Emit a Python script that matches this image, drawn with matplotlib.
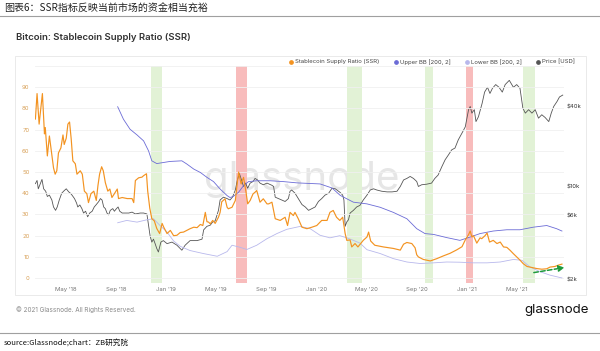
import pandas as pd
import matplotlib
matplotlib.use('Agg')
import matplotlib.pyplot as plt
from matplotlib.lines import Line2D
from matplotlib.patches import Rectangle
from matplotlib.ticker import NullLocator

plt.rcParams['font.family'] = ['Inter', 'Noto Sans CJK SC', 'DejaVu Sans']
CJK = ['Noto Sans CJK SC', 'DejaVu Sans']

# Stablecoin Supply Ratio (left axis)
ssr_dates = [
    '2018-02-17', '2018-02-21', '2018-02-26', '2018-03-06', '2018-03-11', '2018-03-13', '2018-03-18',
    '2018-03-23', '2018-03-27', '2018-04-02', '2018-04-06', '2018-04-10', '2018-04-14', '2018-04-20',
    '2018-04-25', '2018-04-28', '2018-05-03', '2018-05-07', '2018-05-11', '2018-05-15', '2018-05-19',
    '2018-05-25', '2018-05-29', '2018-06-06', '2018-06-11', '2018-06-16', '2018-06-22', '2018-06-26',
    '2018-07-02', '2018-07-09', '2018-07-15', '2018-07-19', '2018-07-23', '2018-07-28', '2018-08-01',
    '2018-08-06', '2018-08-12', '2018-08-17', '2018-08-22', '2018-08-28', '2018-09-04', '2018-09-07',
    '2018-09-16', '2018-09-28', '2018-10-10', '2018-10-14', '2018-10-18', '2018-10-26', '2018-11-03',
    '2018-11-07', '2018-11-14', '2018-11-17', '2018-11-22', '2018-11-27', '2018-12-03', '2018-12-09',
    '2018-12-16', '2018-12-22', '2018-12-26', '2019-01-03', '2019-01-11', '2019-01-19', '2019-01-27',
    '2019-02-04', '2019-02-12', '2019-02-20', '2019-02-28', '2019-03-09', '2019-03-17', '2019-03-25',
    '2019-03-31', '2019-04-06', '2019-04-10', '2019-04-14', '2019-04-18', '2019-04-24', '2019-04-30',
    '2019-05-08', '2019-05-12', '2019-05-16', '2019-05-24', '2019-05-29', '2019-06-01', '2019-06-10',
    '2019-06-18', '2019-06-22', '2019-06-26', '2019-07-02', '2019-07-08', '2019-07-14', '2019-07-18',
    '2019-07-24', '2019-07-31', '2019-08-05', '2019-08-09', '2019-08-17', '2019-08-25', '2019-09-03',
    '2019-09-07', '2019-09-15', '2019-09-23', '2019-10-05', '2019-10-17', '2019-10-23', '2019-10-29',
    '2019-11-06', '2019-11-10', '2019-11-18', '2019-11-27', '2019-12-09', '2019-12-21', '2020-01-02',
    '2020-01-14', '2020-01-27', '2020-02-03', '2020-02-11', '2020-02-19', '2020-02-27', '2020-03-05',
    '2020-03-11', '2020-03-15', '2020-03-23', '2020-03-27', '2020-04-04', '2020-04-11', '2020-04-24',
    '2020-05-03', '2020-05-07', '2020-05-12', '2020-05-22', '2020-06-12', '2020-07-06', '2020-07-23',
    '2020-07-31', '2020-08-08', '2020-08-20', '2020-08-28', '2020-09-01', '2020-09-05', '2020-09-17',
    '2020-10-04', '2020-10-20', '2020-11-05', '2020-11-21', '2020-12-07', '2020-12-20', '2020-12-28',
    '2021-01-05', '2021-01-09', '2021-01-13', '2021-01-17', '2021-01-25', '2021-02-02', '2021-02-06',
    '2021-02-14', '2021-02-19', '2021-02-25', '2021-03-06', '2021-03-15', '2021-03-23', '2021-03-31',
    '2021-04-08', '2021-04-16', '2021-04-24', '2021-05-02', '2021-05-10', '2021-05-18', '2021-05-27',
    '2021-06-08', '2021-06-20', '2021-07-02', '2021-07-14', '2021-07-22', '2021-08-03', '2021-08-11',
    '2021-08-20']
ssr_values = [
    75, 87, 72.6, 87, 68, 71, 57.6, 67, 61, 52, 49, 50.6, 59, 61.4, 67.5, 63, 66, 72.6, 73.6, 65.6,
    55.3, 53.9, 49, 50.6, 49, 41, 39.8, 35.6, 39.8, 41, 36.6, 43.6, 49, 52.5, 50.6, 45, 41, 42, 38,
    39.8, 42, 37.5, 38, 37.5, 37.5, 35.6, 46, 47.3, 47.6, 48.3, 49.2, 41, 33, 28, 27, 23.4, 21, 25.8,
    24, 21, 22.5, 20, 20.2, 21.5, 21.7, 22.5, 23.3, 24, 23.8, 25.3, 24.8, 31, 26.6, 26.4, 25.6, 27.2,
    25.8, 28.7, 31, 36, 37.4, 33.4, 32.7, 33.4, 36.6, 43.6, 50, 44.4, 47.5, 40.5, 35, 36.6, 39.7,
    40.5, 41.3, 35.8, 37.4, 35, 35, 35.8, 28, 27.2, 28.7, 24.8, 31, 29.5, 31, 28, 24, 23.3, 24, 24.8,
    27.2, 27.2, 31, 31.9, 28.7, 27.2, 28.7, 21, 17.8, 18, 14.7, 16.3, 14.7, 17.8, 19.4, 21.7, 17.5,
    15.5, 14.7, 14, 13.2, 16, 16.8, 16.3, 14.3, 11, 10, 8.8, 8.1, 9.2, 10.5, 11.7, 13.3, 14.8, 18,
    20.5, 22.2, 19.4, 20, 16.5, 19, 18.6, 20, 21.3, 17, 17.8, 16.3, 17, 14.7, 14.5, 13.1, 11.5, 10,
    8.5, 6.8, 5.5, 5, 4.5, 4.2, 4.4, 5.2, 5.5, 6.1, 6.6]

# Bollinger bands (left axis)
upper_dates = [
    '2018-09-05', '2018-09-19', '2018-10-05', '2018-10-22', '2018-11-07', '2018-11-19', '2018-11-27',
    '2018-12-09', '2018-12-25', '2019-01-10', '2019-02-08', '2019-02-20', '2019-03-09', '2019-03-25',
    '2019-04-10', '2019-04-26', '2019-05-12', '2019-05-29', '2019-06-05', '2019-06-13', '2019-06-26',
    '2019-07-08', '2019-07-20', '2019-08-09', '2019-09-11', '2019-10-13', '2019-11-15', '2020-01-10',
    '2020-02-08', '2020-02-28', '2020-03-31', '2020-05-03', '2020-06-04', '2020-07-06', '2020-08-08',
    '2020-09-01', '2020-09-21', '2020-10-12', '2020-11-13', '2020-12-15', '2021-01-09', '2021-02-02',
    '2021-03-06', '2021-04-08', '2021-05-10', '2021-06-11', '2021-07-14', '2021-08-07', '2021-08-20']
upper_values = [
    80.8, 74.9, 70.2, 67.5, 64.7, 60, 55.3, 54, 54.5, 55, 55.3, 53.8, 51.4, 49.8, 47.5, 45.5, 42,
    38.9, 38, 38.5, 40.5, 43.6, 45.5, 45.9, 45.9, 45.5, 44.9, 44.4, 42.5, 39, 35.8, 35, 33.4, 31, 28,
    23.3, 21, 20.6, 19.1, 17.8, 19.4, 21, 22.2, 22.8, 22.8, 24, 24.8, 23.3, 22.2]

lower_dates = [
    '2018-09-05', '2018-09-27', '2018-10-22', '2018-11-15', '2018-12-01', '2018-12-17', '2019-01-03',
    '2019-01-19', '2019-02-04', '2019-02-28', '2019-04-01', '2019-05-05', '2019-05-29', '2019-06-10',
    '2019-06-30', '2019-07-16', '2019-08-09', '2019-09-03', '2019-09-27', '2019-10-21', '2019-11-23',
    '2019-12-17', '2020-01-10', '2020-02-03', '2020-02-27', '2020-03-15', '2020-03-31', '2020-04-16',
    '2020-05-03', '2020-06-04', '2020-07-06', '2020-08-08', '2020-09-09', '2020-10-12', '2020-11-13',
    '2020-12-15', '2021-01-17', '2021-02-19', '2021-03-23', '2021-04-24', '2021-05-15', '2021-06-03',
    '2021-06-28', '2021-07-22', '2021-08-15', '2021-08-20']
lower_values = [
    26.1, 27.2, 26.4, 27.5, 28, 24.8, 21.7, 17.5, 15, 13, 11.6, 10.3, 12.5, 15.5, 14.5, 13.5, 15.5,
    18.6, 21, 23, 24.4, 23.3, 20.2, 19, 20, 19, 17.8, 16.5, 13.4, 11.6, 9.2, 7.6, 6.9, 7.2, 7.6, 7.5,
    7.2, 7.2, 7.6, 8.8, 8.4, 5.3, 3, 1.4, 0.3, 0.1]

# BTC price in USD (right axis, log)
price_dates = [
    '2018-02-17', '2018-02-21', '2018-02-24', '2018-03-05', '2018-03-09', '2018-03-14', '2018-03-18',
    '2018-03-23', '2018-03-29', '2018-04-02', '2018-04-07', '2018-04-11', '2018-04-16', '2018-04-22',
    '2018-04-28', '2018-05-03', '2018-05-09', '2018-05-13', '2018-05-17', '2018-05-23', '2018-05-28',
    '2018-05-31', '2018-06-05', '2018-06-10', '2018-06-14', '2018-06-19', '2018-06-24', '2018-06-29',
    '2018-07-05', '2018-07-10', '2018-07-15', '2018-07-21', '2018-07-25', '2018-07-29', '2018-08-02',
    '2018-08-06', '2018-08-10', '2018-08-14', '2018-08-18', '2018-08-24', '2018-08-28', '2018-09-02',
    '2018-09-06', '2018-09-10', '2018-09-16', '2018-10-02', '2018-10-10', '2018-10-18', '2018-10-30',
    '2018-11-07', '2018-11-15', '2018-11-19', '2018-11-23', '2018-11-27', '2018-12-01', '2018-12-05',
    '2018-12-09', '2018-12-13', '2018-12-19', '2018-12-25', '2019-01-03', '2019-01-15', '2019-01-27',
    '2019-02-08', '2019-02-16', '2019-02-28', '2019-03-17', '2019-03-29', '2019-04-02', '2019-04-10',
    '2019-04-18', '2019-04-24', '2019-04-30', '2019-05-08', '2019-05-12', '2019-05-20', '2019-05-29',
    '2019-06-05', '2019-06-11', '2019-06-18', '2019-06-23', '2019-06-28', '2019-07-03', '2019-07-08',
    '2019-07-13', '2019-07-18', '2019-07-24', '2019-07-31', '2019-08-05', '2019-08-11', '2019-08-17',
    '2019-08-25', '2019-09-03', '2019-09-15', '2019-09-19', '2019-09-23', '2019-10-01', '2019-10-09',
    '2019-10-17', '2019-10-25', '2019-10-29', '2019-11-02', '2019-11-10', '2019-11-18', '2019-11-27',
    '2019-12-05', '2019-12-13', '2019-12-21', '2019-12-29', '2020-01-06', '2020-01-14', '2020-01-22',
    '2020-01-31', '2020-02-08', '2020-02-16', '2020-02-24', '2020-02-28', '2020-03-05', '2020-03-08',
    '2020-03-11', '2020-03-15', '2020-03-19', '2020-03-23', '2020-03-31', '2020-04-08', '2020-04-16',
    '2020-04-24', '2020-05-03', '2020-05-11', '2020-05-19', '2020-05-27', '2020-06-08', '2020-06-21',
    '2020-07-03', '2020-07-15', '2020-07-23', '2020-07-31', '2020-08-08', '2020-08-16', '2020-08-24',
    '2020-09-01', '2020-09-05', '2020-09-13', '2020-09-25', '2020-10-07', '2020-10-15', '2020-10-23',
    '2020-11-01', '2020-11-09', '2020-11-17', '2020-11-25', '2020-12-03', '2020-12-11', '2020-12-20',
    '2020-12-28', '2021-01-05', '2021-01-09', '2021-01-13', '2021-01-19', '2021-01-23', '2021-01-29',
    '2021-02-07', '2021-02-13', '2021-02-20', '2021-02-26', '2021-03-04', '2021-03-12', '2021-03-20',
    '2021-03-28', '2021-04-04', '2021-04-14', '2021-04-24', '2021-05-02', '2021-05-10', '2021-05-17',
    '2021-05-23', '2021-05-31', '2021-06-08', '2021-06-16', '2021-06-24', '2021-07-02', '2021-07-10',
    '2021-07-19', '2021-07-25', '2021-07-31', '2021-08-08', '2021-08-14', '2021-08-22']
price_values = [
    10500, 11100, 9600, 11300, 9600, 9200, 8400, 8600, 7900, 7000, 6600, 7000, 7900, 8900, 9300,
    9600, 9100, 8900, 8600, 8100, 7500, 7000, 7250, 6800, 6300, 6500, 5900, 6300, 6500, 7000, 7300,
    7700, 8100, 7900, 7000, 6800, 6300, 6100, 6600, 6800, 6500, 6800, 7000, 6500, 6300, 6300, 6400,
    6200, 6300, 6300, 6200, 5100, 4200, 3800, 4000, 3700, 3400, 3200, 3800, 3900, 3700, 3800, 3600,
    3300, 3600, 3900, 3900, 4000, 4700, 5000, 5100, 5400, 5500, 6600, 7900, 8300, 8100, 7900, 8300,
    9400, 11200, 12500, 11200, 10000, 10600, 9700, 10600, 10900, 11500, 11200, 10600, 10300, 10600,
    10200, 10000, 8300, 8100, 7900, 7700, 8100, 9200, 9400, 8900, 8100, 7300, 7000, 6600, 6800, 7000,
    7700, 8100, 8600, 8900, 9700, 9600, 9200, 9000, 8600, 7900, 5000, 5400, 5600, 6300, 6600, 7000,
    7200, 7900, 8600, 9400, 9600, 9400, 9200, 9100, 9100, 9200, 10000, 11200, 11500, 11900, 11500,
    10900, 10000, 10300, 10400, 10600, 11500, 12200, 14100, 15900, 17300, 18900, 19500, 22500, 25300,
    28200, 38000, 40200, 35800, 38000, 30900, 33600, 42500, 51600, 56100, 50400, 55100, 58800, 56100,
    51600, 58800, 63300, 56100, 58800, 55100, 39000, 35800, 38000, 35800, 38000, 32800, 34800, 33200,
    30900, 35800, 40200, 43800, 47400, 49000]

# highlighted periods
green_periods = [('2018-11-25', '2018-12-22'), ('2020-03-16', '2020-04-22'),
                 ('2020-09-22', '2020-10-11'), ('2021-05-18', '2021-06-16')]
red_periods = [('2019-06-20', '2019-07-16'), ('2020-12-30', '2021-01-16')]

xtick_dates = ['2018-05-01', '2018-09-01', '2019-01-01', '2019-05-01', '2019-09-01', '2020-01-01',
               '2020-05-01', '2020-09-01', '2021-01-01', '2021-05-01']
xtick_labels = ["May '18", "Sep '18", "Jan '19", "May '19", "Sep '19", "Jan '20",
                "May '20", "Sep '20", "Jan '21", "May '21"]
ssr_ticks = list(range(0, 100, 10))
price_ticks = [2000, 6000, 10000, 40000]
price_tick_labels = ['$2k', '$6k', '$10k', '$40k']

legend_labels = ['Stablecoin Supply Ratio (SSR)', 'Upper BB [200, 2]', 'Lower BB [200, 2]', 'Price [USD]']

ORANGE = '#f39321'
UPPER = '#6b6bd6'
LOWER = '#b8b8ec'
PRICE = '#555555'

W, H = 600, 351


def fx(px):
    return px / W


def fy(py):
    return 1 - py / H


fig = plt.figure(figsize=(6, 3.51), dpi=100)

# header / footer
fig.text(fx(4), fy(9), '图表6：SSR指标反映当前市场的资金相当充裕', fontsize=7.2, color='#222222',
         va='center', ha='left', family=CJK)
fig.add_artist(Line2D([0, 1], [fy(15.5), fy(15.5)], color='#a0a0a0', lw=0.8))
fig.text(fx(16), fy(37), 'Bitcoin: Stablecoin Supply Ratio (SSR)', fontsize=6.9, weight='semibold',
         color='#333333', va='center')
fig.add_artist(Rectangle((fx(15), fy(295)), fx(586) - fx(15), fy(56) - fy(295),
                         ec='#e6e6e6', fc='none', lw=0.6))
fig.text(fx(16), fy(310), '© 2021 Glassnode. All Rights Reserved.', fontsize=4.6, color='#8a8a8a', va='center')
fig.text(fx(589), fy(310), 'glassnode', fontsize=9.6, color='#111111', ha='right', va='center')
fig.add_artist(Line2D([0, 1], [fy(333), fy(333)], color='#a0a0a0', lw=0.8))
fig.text(fx(4), fy(343), 'source:Glassnode;chart：ZB研究院', fontsize=5.5, color='#111111', va='center', family=CJK)

# watermark
fig.text(fx(302), fy(190), 'glassnode', fontsize=29, color='#e6e6e6', ha='center', va='baseline', zorder=0.5)

# axes
ax = fig.add_axes([fx(35), fy(283), fx(564) - fx(35), fy(66) - fy(283)])
ax2 = ax.twinx()
ax.set_zorder(2)
ax2.set_zorder(1)
ax.patch.set_visible(False)

for a, b in green_periods:
    ax2.axvspan(pd.Timestamp(a), pd.Timestamp(b), color='#e2f2d6', lw=0, zorder=0)
for a, b in red_periods:
    ax2.axvspan(pd.Timestamp(a), pd.Timestamp(b), color='#f8bcbc', lw=0, zorder=0)

ax2.plot(pd.to_datetime(price_dates), price_values, color=PRICE, lw=0.6, zorder=2)
ax2.set_yscale('log')
ax2.set_ylim(1866, 81230)
ax2.set_yticks(price_ticks)
ax2.set_yticklabels(price_tick_labels)
ax2.yaxis.set_minor_locator(NullLocator())
ax2.tick_params(axis='y', length=0, pad=2, labelsize=4.3, labelcolor='#333333')

for v in range(0, 101, 10):
    ax.axhline(v, color='#f0f0f0', lw=0.6, zorder=0)
ax.plot(pd.to_datetime(upper_dates), upper_values, color=UPPER, lw=0.6, zorder=2)
ax.plot(pd.to_datetime(lower_dates), lower_values, color=LOWER, lw=0.6, zorder=2)
ax.plot(pd.to_datetime(ssr_dates), ssr_values, color=ORANGE, lw=0.85, zorder=3)
ax.set_ylim(-2.3, 100)
ax.set_yticks(ssr_ticks)
ax.tick_params(axis='y', length=0, pad=4, labelsize=4.3, labelcolor='#d9a25a')
ax.set_xlim(pd.Timestamp('2018-02-16'), pd.Timestamp('2021-08-25'))
ax.set_xticks(pd.to_datetime(xtick_dates))
ax.set_xticklabels(xtick_labels)
ax.tick_params(axis='x', length=0, pad=3, labelsize=4.3, labelcolor='#777777')

for a in (ax, ax2):
    for s in a.spines.values():
        s.set_visible(False)

# trend arrow
ax.annotate('', xy=(pd.Timestamp('2021-09-02'), 5.2), xytext=(pd.Timestamp('2021-06-06'), 2.4),
            arrowprops=dict(arrowstyle='-|>,head_length=0.35,head_width=0.18', color='#1e9a3c',
                            lw=1.1, linestyle=(0, (3, 1.5))),
            annotation_clip=False, zorder=5)

# legend
legend_colors = [ORANGE, UPPER, LOWER, PRICE]
legend_px = [291, 396, 467, 538]
for label, c, px in zip(legend_labels, legend_colors, legend_px):
    fig.add_artist(Line2D([fx(px)], [fy(62)], marker='o', ms=2.4, color=c, lw=0))
    fig.text(fx(px + 4), fy(62), label, fontsize=4.3, color='#444444', va='center')

fig.savefig('out.png', dpi=100)
